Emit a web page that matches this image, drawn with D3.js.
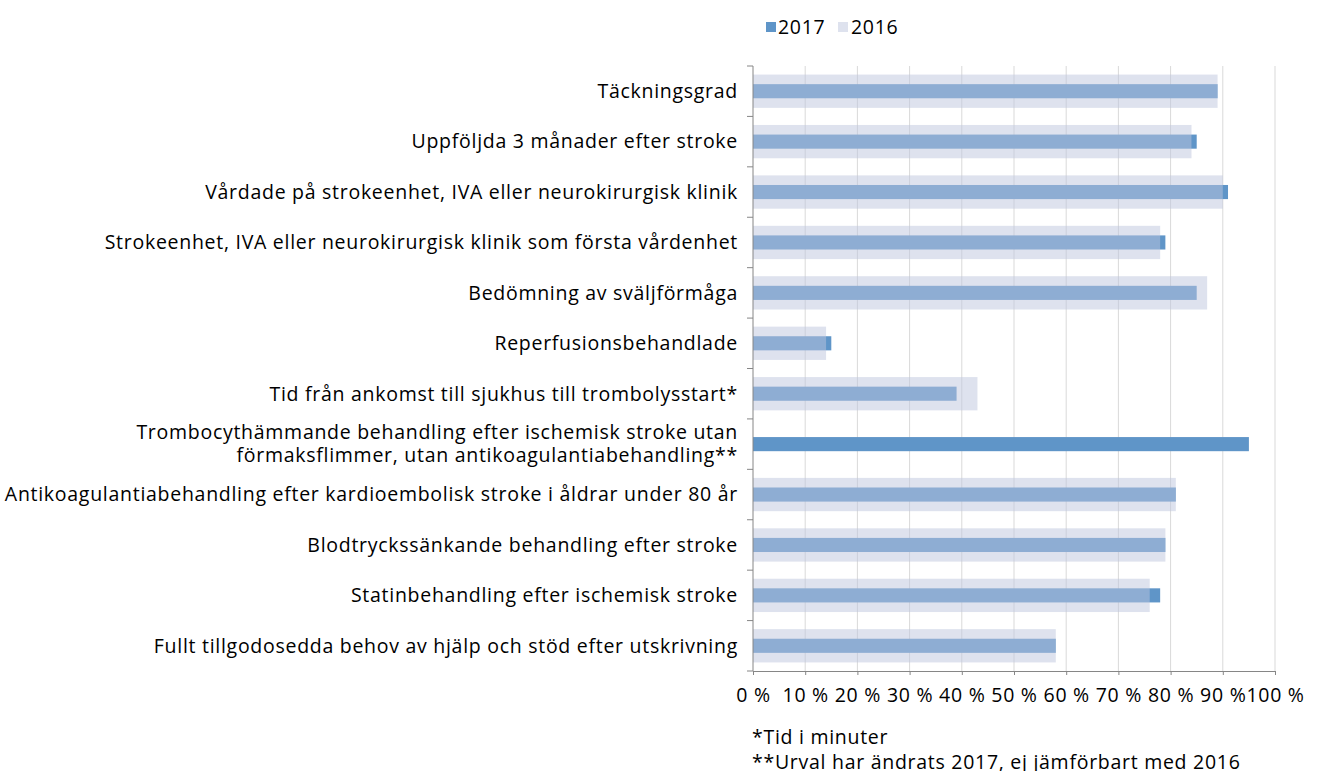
<!DOCTYPE html>
<html><head><meta charset="utf-8">
<script src="https://cdn.jsdelivr.net/npm/d3@7/dist/d3.min.js"></script>
<style>body{margin:0;background:#fff}svg{display:block}text{font-family:"Open Sans","Noto Sans",sans-serif;fill:#000;letter-spacing:0.72px}</style>
</head><body><svg id="c" width="1317" height="771"></svg>
<script>
const categories = [
  ["Täckningsgrad"],
  ["Uppföljda 3 månader efter stroke"],
  ["Vårdade på strokeenhet, IVA eller neurokirurgisk klinik"],
  ["Strokeenhet, IVA eller neurokirurgisk klinik som första vårdenhet"],
  ["Bedömning av sväljförmåga"],
  ["Reperfusionsbehandlade"],
  ["Tid från ankomst till sjukhus till trombolysstart*"],
  ["Trombocythämmande behandling efter ischemisk stroke utan", "förmaksflimmer, utan antikoagulantiabehandling**"],
  ["Antikoagulantiabehandling efter kardioembolisk stroke i åldrar under 80 år"],
  ["Blodtryckssänkande behandling efter stroke"],
  ["Statinbehandling efter ischemisk stroke"],
  ["Fullt tillgodosedda behov av hjälp och stöd efter utskrivning"]
];
const values2017 = [89, 85, 91, 79, 85, 15, 39, 95, 81, 79, 78, 58];
const values2016 = [89, 84, 90, 78, 87, 14, 43, null, 81, 79, 76, 58];
const xTicks = [0,10,20,30,40,50,60,70,80,90,100];
const footnotes = ["*Tid i minuter", "**Urval har ändrats 2017, ej jämförbart med 2016"];
const seriesNames = ["2017", "2016"];

const FS = 19.5;
const svg = d3.select("#c");
const L = 753, R = 1275, T = 66, B = 671;
const x = d3.scaleLinear().domain([0,100]).range([L,R]);
const y = d3.scaleBand().domain(d3.range(categories.length)).range([T,B]);
const bw = y.bandwidth();
const c2017 = "#5f95c8", c2016 = "rgb(189,197,221)";

svg.append("g").selectAll("line").data(xTicks.slice(1)).join("line")
  .attr("x1", d=>x(d)).attr("x2", d=>x(d)).attr("y1", T).attr("y2", B)
  .attr("stroke", "#d9d9d9").attr("stroke-width", 1);

const h17 = bw*0.28, h16 = bw*0.66;
svg.append("g").selectAll("rect").data(values2017).join("rect")
  .attr("x", x(0)).attr("width", d=>x(d)-x(0))
  .attr("y", (d,i)=>y(i)+bw/2-h17/2).attr("height", h17)
  .attr("fill", c2017);
svg.append("g").selectAll("rect").data(values2016.map((v,i)=>({v,i})).filter(d=>d.v!=null)).join("rect")
  .attr("x", x(0)).attr("width", d=>x(d.v)-x(0))
  .attr("y", d=>y(d.i)+bw/2-h16/2).attr("height", h16)
  .attr("fill", c2016).attr("fill-opacity", 0.5);

const xa = svg.append("g").attr("transform", `translate(0,${B})`)
  .call(d3.axisBottom(x).tickValues(xTicks).tickSize(4).tickPadding(13).tickFormat(d=>d+" %"));
xa.select(".domain").attr("stroke", "#868686");
xa.selectAll(".tick line").attr("stroke", "#868686");
xa.selectAll("text").attr("font-size", FS).style("font-family","'Open Sans','Noto Sans',sans-serif").style("fill","#000");

const ya = svg.append("g").attr("transform", `translate(${L},0)`);
ya.append("line").attr("x1",0).attr("x2",0).attr("y1",T).attr("y2",B).attr("stroke","#868686");
ya.selectAll("line.t").data(d3.range(categories.length+1)).join("line").attr("class","t")
  .attr("x1",-6).attr("x2",0).attr("y1",d=>T+d*bw).attr("y2",d=>T+d*bw).attr("stroke","#868686");

const lab = svg.append("g").selectAll("text").data(categories).join("text")
  .attr("x", 738).attr("text-anchor","end").attr("font-size", FS)
  .attr("y", (d,i)=>y(i)+bw/2);
lab.each(function(d){
  const t = d3.select(this);
  const n = d.length;
  d.forEach((s,k)=>{
    t.append("tspan").attr("x",738).attr("dy", k===0 ? (0.35 - (n-1)*0.59)+"em" : "1.18em").text(s);
  });
});

const lg = svg.append("g");
lg.append("rect").attr("x",766).attr("y",22).attr("width",10).attr("height",10).attr("fill",c2017);
lg.append("text").attr("x",778).attr("y",27).attr("dy","0.35em").attr("font-size",FS).text(seriesNames[0]);
lg.append("rect").attr("x",838).attr("y",22).attr("width",10).attr("height",10).attr("fill",c2016).attr("fill-opacity",0.5);
lg.append("text").attr("x",851).attr("y",27).attr("dy","0.35em").attr("font-size",FS).text(seriesNames[1]);

svg.append("g").selectAll("text").data(footnotes).join("text")
  .attr("x",752).attr("y",(d,i)=>737+i*25).attr("dy","0.35em").attr("font-size",FS).text(d=>d);
</script></body></html>
